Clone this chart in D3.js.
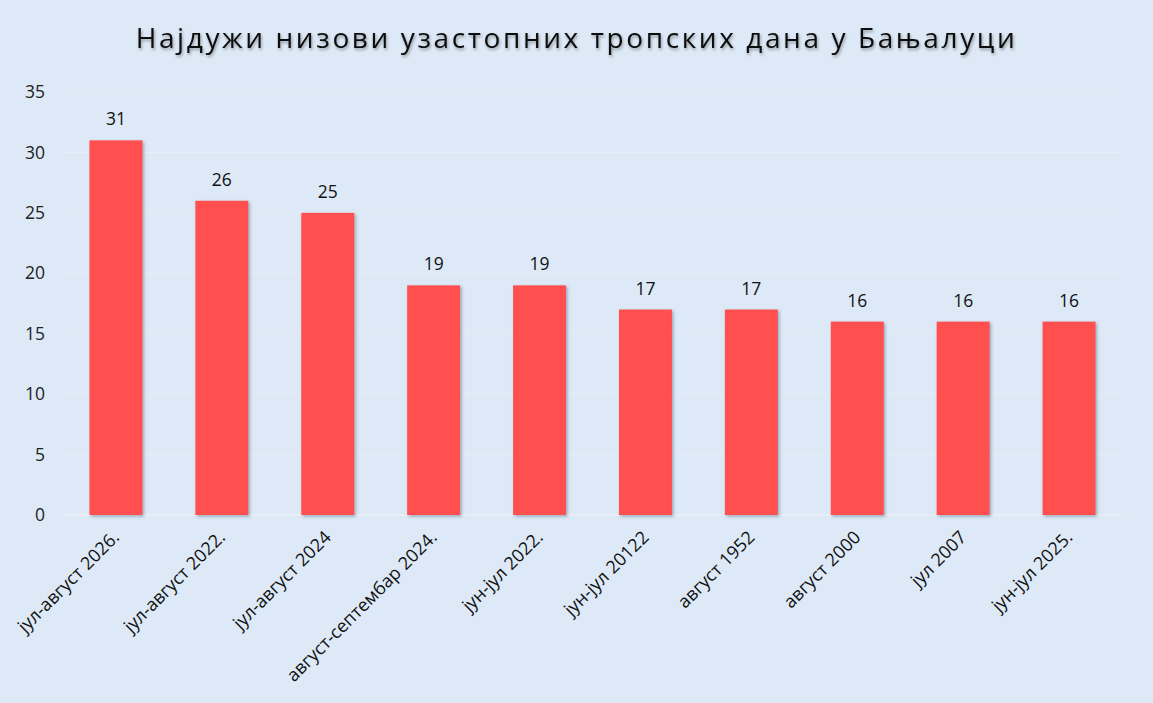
<!DOCTYPE html>
<html>
<head>
<meta charset="utf-8">
<script src="https://cdn.jsdelivr.net/npm/d3@7"></script>
<style>
  body { margin: 0; background: #dde9f6; }
  svg { display: block; font-family: "Open Sans", sans-serif; }
</style>
</head>
<body>
<div id="chart"></div>
<script>
// data
var periods = ["јул-август 2026.", "јул-август 2022.", "јул-август 2024", "август-септембар 2024.",
  "јун-јул 2022.", "јун-јул 20122", "август 1952", "август 2000", "јул 2007", "јун-јул 2025."];
var days = [31, 26, 25, 19, 19, 17, 17, 16, 16, 16];
var yTicks = [0, 5, 10, 15, 20, 25, 30, 35];
var title = "Најдужи низови узастопних тропских дана у Бањалуци";

var width = 1153, height = 703,
    margin = {top: 92, right: 31, bottom: 188, left: 63};

var svg = d3.select("#chart").append("svg")
    .attr("width", width)
    .attr("height", height);

var defs = svg.append("defs");
var shadow = defs.append("filter").attr("id", "barShadow")
    .attr("x", "-20%").attr("y", "-5%").attr("width", "140%").attr("height", "110%");
shadow.append("feDropShadow")
    .attr("dx", 1.5).attr("dy", 1.5).attr("stdDeviation", 1.8)
    .attr("flood-color", "#3a5570").attr("flood-opacity", 0.45);

var titleShadow = defs.append("filter").attr("id", "titleShadow")
    .attr("x", "-5%").attr("y", "-30%").attr("width", "110%").attr("height", "160%");
titleShadow.append("feDropShadow")
    .attr("dx", 1).attr("dy", 2).attr("stdDeviation", 1.5)
    .attr("flood-color", "#000").attr("flood-opacity", 0.35);

svg.append("rect").attr("width", width).attr("height", height).attr("fill", "#dde9f6");

var x = d3.scaleBand()
    .domain(periods)
    .range([margin.left, width - margin.right])
    .paddingInner(0.5)
    .paddingOuter(0.25);

var y = d3.scaleLinear()
    .domain([0, 35])
    .range([height - margin.bottom, margin.top]);

// gridlines
svg.append("g")
    .selectAll("line")
    .data(yTicks)
    .enter().append("line")
    .attr("x1", margin.left)
    .attr("x2", width - margin.right)
    .attr("y1", (d) => y(d))
    .attr("y2", (d) => y(d))
    .attr("stroke", (d) => d === 0 ? "#e9eef5" : "#e5edf7")
    .attr("stroke-width", (d) => d === 0 ? 2 : 1);

// y axis labels
var yAxis = svg.append("g")
    .attr("transform", "translate(" + (margin.left - 18) + ",0)")
    .call(d3.axisLeft(y).tickValues(yTicks).tickSize(0).tickPadding(0));
yAxis.select(".domain").remove();
yAxis.selectAll("text")
    .attr("font-size", 17.5)
    .attr("font-family", "Open Sans, sans-serif")
    .attr("fill", "#222");

// bars
svg.append("g")
    .selectAll("rect")
    .data(days)
    .enter().append("rect")
    .attr("x", (d, i) => x(periods[i]))
    .attr("y", (d) => y(d))
    .attr("width", x.bandwidth())
    .attr("height", (d) => y(0) - y(d))
    .attr("fill", "#ff5050")
    .attr("filter", "url(#barShadow)");

// value labels
svg.append("g")
    .selectAll("text")
    .data(days)
    .enter().append("text")
    .attr("x", (d, i) => x(periods[i]) + x.bandwidth() / 2)
    .attr("y", (d) => y(d) - 15)
    .attr("text-anchor", "middle")
    .attr("font-size", 17.5)
    .attr("fill", "#111")
    .text((d) => d);

// x axis labels
var xAxis = svg.append("g")
    .attr("transform", "translate(0," + (y(0) + 19) + ")")
    .call(d3.axisBottom(x).tickSize(0).tickPadding(0));
xAxis.select(".domain").remove();
xAxis.selectAll("text")
    .attr("font-size", 18)
    .attr("font-family", "Open Sans, sans-serif")
    .attr("fill", "#111")
    .attr("text-anchor", "end")
    .attr("dy", "0.35em")
    .attr("transform", "translate(0,0) rotate(-45)");

// title
svg.append("text")
    .attr("x", width / 2)
    .attr("y", 48)
    .attr("text-anchor", "middle")
    .attr("font-size", 28)
    .attr("letter-spacing", 2.6)
    .attr("fill", "#111")
    .attr("filter", "url(#titleShadow)")
    .text(title);
</script>
</body>
</html>
